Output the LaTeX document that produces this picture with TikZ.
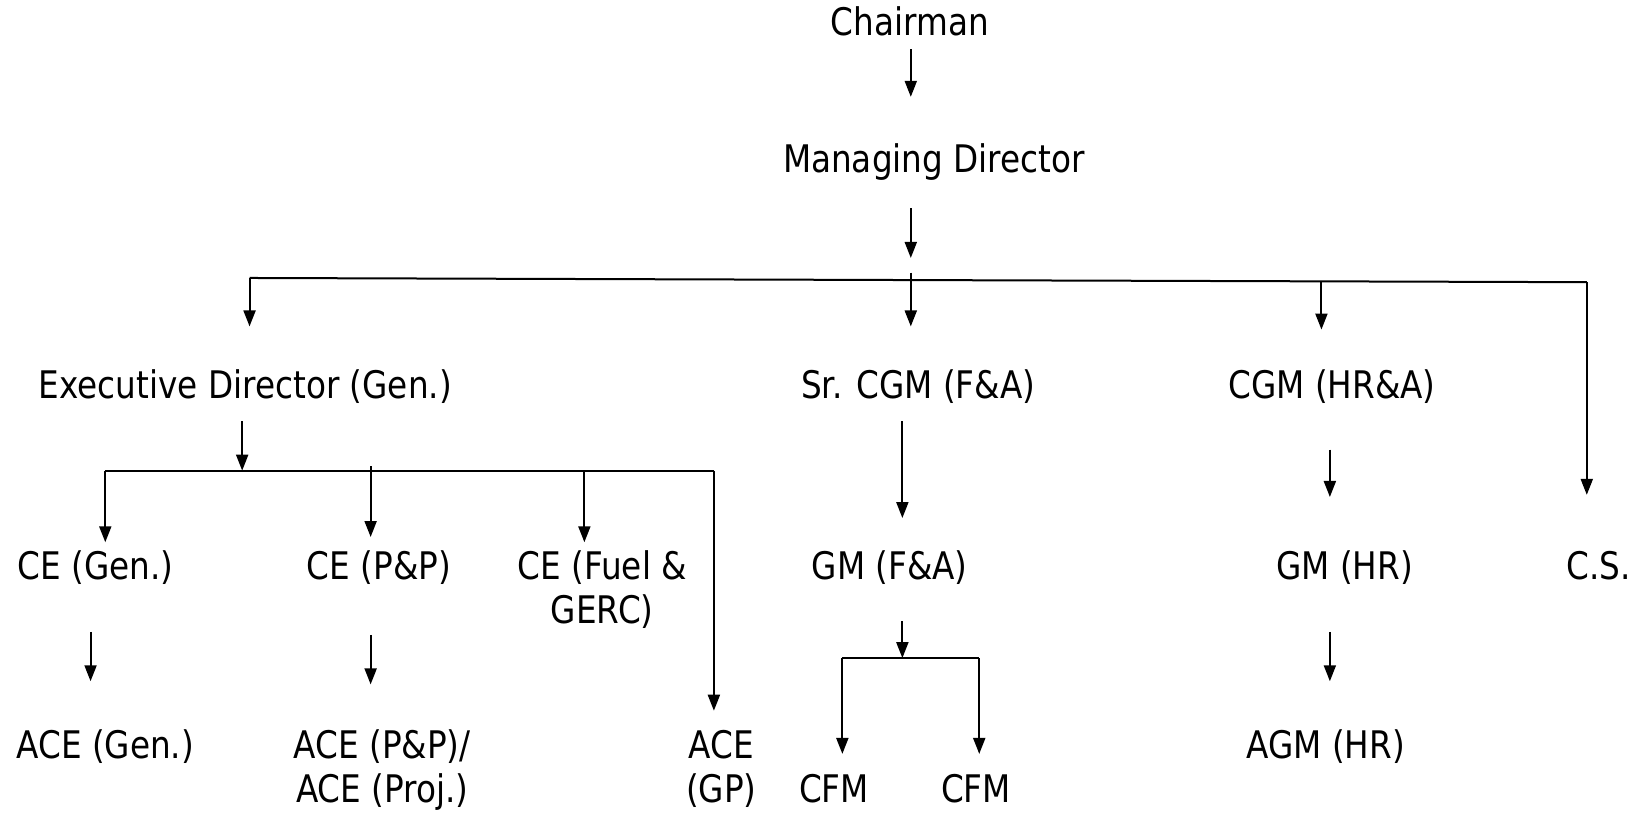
\documentclass[tikz,border=0pt]{standalone}
\usepackage{fontspec}
\setmainfont{DejaVu Sans}[FakeStretch=0.86]
\usetikzlibrary{arrows.meta}
\begin{document}
\begin{tikzpicture}[x=0.5265pt,y=-0.5265pt,
  lbl/.style={font=\fontsize{19}{22}\selectfont, inner sep=0pt, anchor=base, align=center},
  arr/.style={line width=1pt, -{Triangle[length=8pt,width=6pt]}},
  ln/.style={line width=1pt}]
\useasboundingbox (0,0) rectangle (1568,772);
% nodes (multi-line nodes are placed by the baseline of their last line)
\node[lbl] (chair) at (864,34) {Chairman};
\node[lbl] (md) at (887,164) {Managing Director};
\node[lbl] (ed) at (233,378) {Executive Director (Gen.)};
\node[lbl] (srcgm) at (872,378) {Sr. CGM (F\&A)};
\node[lbl] (cgm) at (1265,378) {CGM (HR\&A)};
\node[lbl] (ceg) at (91,550) {CE (Gen.)};
\node[lbl] (cepp) at (360,550) {CE (P\&P)};
\node[lbl] (cefuel) at (572,592) {CE (Fuel \&\\GERC)};
\node[lbl] (gmfa) at (845,550) {GM (F\&A)};
\node[lbl] (gmhr) at (1277,550) {GM (HR)};
\node[lbl] (cs) at (1518,550) {C.S.};
\node[lbl] (aceg) at (100,720) {ACE (Gen.)};
\node[lbl] (acepp) at (363,762) {ACE (P\&P)/\\ACE (Proj.)};
\node[lbl] (acegp) at (685,762) {ACE\\(GP)};
\node[lbl] (cfm1) at (792,762) {CFM};
\node[lbl] (cfm2) at (927,762) {CFM};
\node[lbl] (agm) at (1259,720) {AGM (HR)};
% junctions
\coordinate (b1L) at (237,264);
\coordinate (b1M) at (865,266);
\coordinate (b1H) at (1255,267);
\coordinate (b1R) at (1507,268);
\coordinate (b2L) at (100,447);
\coordinate (b2M) at (230,447);
\coordinate (b2P) at (352,447);
\coordinate (b2F) at (555,447);
\coordinate (b2R) at (678,447);
\coordinate (b3M) at (857,625);
\coordinate (b3L) at (800,625);
\coordinate (b3R) at (930,625);
% connectors
\draw[arr] (865,47) -- (865,92);
\draw[arr] (865,198) -- (865,245);
\draw[ln] (b1L) -- (b1R);
\draw[ln] (865,259) -- (b1M);
\draw[arr] (b1L) -- (237,310);
\draw[arr] (b1M) -- (865,310);
\draw[arr] (b1H) -- (1255,313);
\draw[arr] (b1R) -- (1507,470);
\draw[arr] (230,400) -- (b2M);
\draw[ln] (b2L) -- (b2R);
\draw[arr] (b2L) -- (100,515);
\draw[arr] (352,443) -- (352,510);
\draw[arr] (b2F) -- (555,515);
\draw[arr] (b2R) -- (678,675);
\draw[arr] (857,400) -- (857,492);
\draw[arr] (1263,427) -- (1263,472);
\draw[arr] (86,600) -- (86,647);
\draw[arr] (352,603) -- (352,650);
\draw[arr] (857,590) -- (b3M);
\draw[ln] (b3L) -- (b3R);
\draw[arr] (b3L) -- (800,716);
\draw[arr] (b3R) -- (930,716);
\draw[arr] (1263,600) -- (1263,647);
\end{tikzpicture}
\end{document}
